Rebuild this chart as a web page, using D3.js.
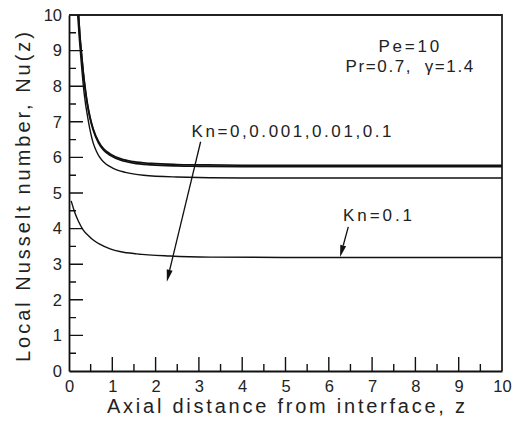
<!DOCTYPE html>
<html><head><meta charset="utf-8">
<script src="https://cdn.jsdelivr.net/npm/d3@7/dist/d3.min.js"></script>
<style>
html,body{margin:0;padding:0;background:#fff;}
svg{display:block;font-family:"Liberation Sans",Arial,sans-serif;}
</style></head>
<body><svg id="chart" width="515" height="425"></svg>
<script>
// ---- data ----
const xTicks = [0,1,2,3,4,5,6,7,8,9,10];
const yTicks = [0,1,2,3,4,5,6,7,8,9,10];
const xMinor = [0.5,1.5,2.5,3.5,4.5,5.5,6.5,7.5,8.5,9.5];
const yMinor = [0.5,1.5,2.5,3.5,4.5,5.5,6.5,7.5,8.5,9.5];

const zA  = [0.22,0.25,0.29,0.33,0.37,0.42,0.485,0.56,0.68,0.8,0.95,1.2,1.49,1.9,2.49,3,4,6,10];
const nuA = [10,9.45,8.9,8.4,7.98,7.55,7.14,6.8,6.45,6.24,6.1,5.96,5.88,5.83,5.8,5.79,5.78,5.78,5.78];
const zB  = [0.22,0.25,0.29,0.33,0.37,0.42,0.485,0.56,0.68,0.8,0.95,1.2,1.49,1.9,2.49,3,4,6,10];
const nuB = [10,9.42,8.86,8.36,7.94,7.51,7.1,6.76,6.41,6.2,6.06,5.92,5.84,5.79,5.76,5.75,5.74,5.74,5.74];
const zC  = [0.2,0.24,0.28,0.35,0.45,0.56,0.63,0.7,0.8,0.95,1.1,1.3,1.72,2.49,4,6,10];
const nuC = [10,9.3,8.7,7.8,7.0,6.4,6.18,6.02,5.87,5.74,5.65,5.58,5.5,5.45,5.42,5.42,5.42];
const zD  = [0.05,0.14,0.22,0.33,0.45,0.56,0.72,0.95,1.2,1.56,2.33,3.26,5,10];
const nuD = [4.78,4.43,4.2,3.96,3.8,3.68,3.555,3.43,3.35,3.29,3.23,3.2,3.19,3.19];

const seriesNames = ["Kn=0","Kn=0.001","Kn=0.01","Kn=0.1"];

const xLabel = "Axial distance from interface, z";
const yLabel = "Local Nusselt number, Nu(z)";
const noteLines = ["Pe=10","Pr=0.7,  \u03B3=1.4"];
const knLabel = "Kn=0,0.001,0.01,0.1";
const knLabel2 = "Kn=0.1";

// ---- layout ----
const svg = d3.select("#chart");
const x = d3.scaleLinear().domain([0,10]).range([69,502]);
const y = d3.scaleLinear().domain([0,10]).range([371,15]);
const ink = "#111";

svg.append("rect").attr("width",515).attr("height",425).attr("fill","#fff");

svg.append("defs").append("clipPath").attr("id","clip")
  .append("rect").attr("x",69).attr("y",15).attr("width",433).attr("height",356);

// axes (labels + domain)
const xAxis = svg.append("g").attr("transform","translate(0,371)")
  .call(d3.axisBottom(x).tickValues(xTicks).tickSize(0).tickPadding(9).tickFormat(d3.format("d")));
const yAxis = svg.append("g").attr("transform","translate(69,0)")
  .call(d3.axisLeft(y).tickValues(yTicks).tickSize(0).tickPadding(7).tickFormat(d3.format("d")));
[xAxis,yAxis].forEach(g=>{
  g.select(".domain").attr("stroke",ink).attr("stroke-width",1.8);
  g.selectAll(".tick line").remove();
  g.selectAll("text").attr("fill","#222").attr("font-size",16.5)
   .attr("font-family","'Liberation Sans',Arial,sans-serif");
});
xAxis.selectAll("text").attr("dy","0.75em");

// inward ticks
function tickPath(vals, len, horizontal){
  return vals.map(v => horizontal
    ? `M${x(0)},${y(v)}h${len}`
    : `M${x(v)},${y(0)}v${-len}`).join("");
}
const tk = svg.append("g").attr("fill","none").attr("stroke",ink).attr("stroke-width",1.4);
tk.append("path").attr("d", tickPath(xTicks.slice(1,-1),14,false));
tk.append("path").attr("d", tickPath(xMinor,7,false));
tk.append("path").attr("d", tickPath(yTicks.slice(1,-1),14,true));
tk.append("path").attr("d", tickPath(yMinor,7,true));

// frame top & right
svg.append("path")
  .attr("d",`M${x(0)},${y(10)}H${x(10)}V${y(0)}`)
  .attr("fill","none").attr("stroke","#222").attr("stroke-width",1.8);

// curves
const line = d3.line().x(d=>x(d[0])).y(d=>y(d[1])).curve(d3.curveMonotoneX);
const series = [[zA,nuA],[zB,nuB],[zC,nuC],[zD,nuD]];
svg.append("g").attr("clip-path","url(#clip)")
  .selectAll("path").data(series).join("path")
  .attr("d",s=>line(s[0].map((z,i)=>[z,s[1][i]])))
  .attr("fill","none").attr("stroke","#111").attr("stroke-width",(d,i)=>i<2?1.7:1.4);

// arrows
function arrow(x1,y1,x2,y2){
  const px1=x(x1),py1=y(y1),px2=x(x2),py2=y(y2);
  const ang=Math.atan2(py2-py1,px2-px1);
  const L=12,W=3;
  const bx=px2-L*Math.cos(ang), by=py2-L*Math.sin(ang);
  svg.append("line").attr("x1",px1).attr("y1",py1).attr("x2",bx).attr("y2",by)
    .attr("stroke","#111").attr("stroke-width",1.3);
  svg.append("path")
    .attr("d",`M${px2},${py2}L${bx+W*Math.sin(ang)},${by-W*Math.cos(ang)}L${bx-W*Math.sin(ang)},${by+W*Math.cos(ang)}Z`)
    .attr("fill","#111");
}
arrow(3.04,6.44,2.26,2.51);
arrow(6.45,4.05,6.26,3.2);

// annotations
const ann = svg.append("g").attr("fill","#222").attr("font-size",17);
ann.append("text").attr("x",x(7.88)).attr("y",y(8.96)).attr("text-anchor","middle")
  .attr("letter-spacing",2.8).text(noteLines[0]);
ann.append("text").attr("x",x(7.88)).attr("y",y(8.4)).attr("text-anchor","middle")
  .attr("letter-spacing",1.6).style("white-space","pre").text(noteLines[1]);
ann.append("text").attr("x",x(2.83)).attr("y",y(6.58))
  .attr("textLength",200).attr("lengthAdjust","spacing").text(knLabel);
ann.append("text").attr("x",x(6.33)).attr("y",y(4.21))
  .attr("textLength",69).attr("lengthAdjust","spacing").text(knLabel2);

// axis titles
svg.append("text").attr("x",107).attr("y",413).attr("font-size",20).attr("fill","#222")
  .attr("textLength",358).attr("lengthAdjust","spacing").text(xLabel);
svg.append("text").attr("transform","translate(30,362) rotate(-90)").attr("font-size",20).attr("fill","#222")
  .attr("textLength",330).attr("lengthAdjust","spacing").text(yLabel);
</script></body></html>
